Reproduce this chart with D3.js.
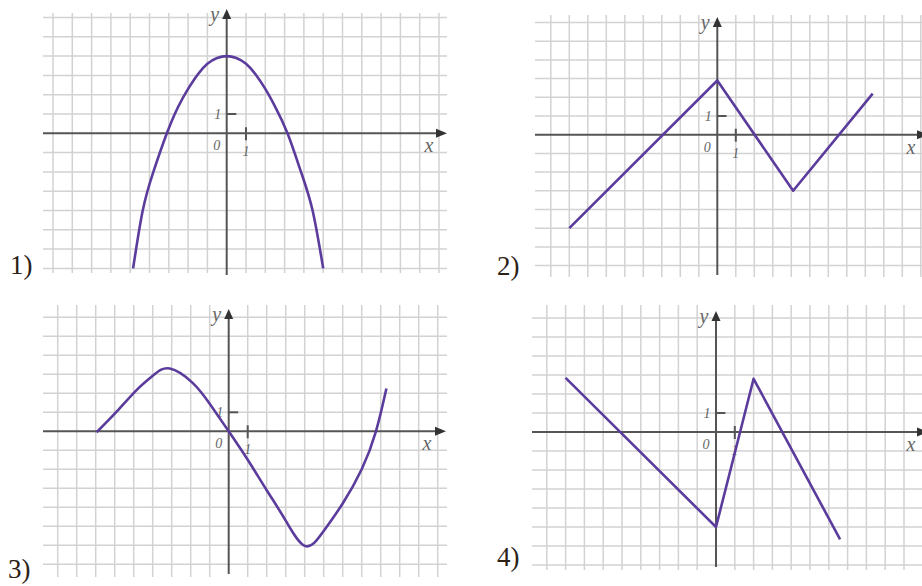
<!DOCTYPE html>
<html>
<head>
<meta charset="utf-8">
<script src="https://cdn.jsdelivr.net/npm/d3@7"></script>
<style>
  body { margin: 0; background: #fff; }
  svg { display: block; }
</style>
</head>
<body>
<div id="container"></div>
<script>
/* DATA (grid units) */
const panelNames = ["1)", "2)", "3)", "4)"];
const gridX = d3.range(-9, 12);   // vertical grid lines
const gridY = d3.range(-7, 7);    // horizontal grid lines

const graph1 = [[-4.85,-7],[-4.35,-4],[-3.8,-2],[-3.1,0],[-2.5,1.4],[-2,2.3],[-1.5,3.05],
  [-1,3.6],[-0.5,3.9],[0,4],[0.5,3.9],[1,3.6],[1.5,3.05],[2,2.3],[2.5,1.4],[3.15,0],[3.85,-2],
  [4.45,-4],[5.0,-7]];
const graph2 = [[-8,-5],[0,2.9],[4.1,-3],[8.4,2.2]];
const graph3 = [[-6.95,-0.05],[-5.9,1.03],[-4.85,2.17],[-3.95,2.96],[-3.1,3.3],[-1.9,2.55],
  [-1,1.45],[0,0],[1,-1.5],[2,-3.1],[3,-4.7],[4.03,-6.04],[5,-5.25],[6,-3.8],
  [7,-2.0],[7.75,0],[8.3,2.25]];
const graph4 = [[-8,2.85],[0,-5],[2,2.8],[6.6,-5.65]];

/* LAYOUT (pixels) */
const width = 922, height = 586;
const panels = [
  {name: panelNames[0], pts: graph1, smooth: true,
   ox: 226.7, oy: 133.3, cx: 19.3, cy: 19.3, hx: [43, 447], vy: [13, 273], yTop: 9, yBot: 275, xEnd: 447, xLab: 429, lx: 10, ly: 274},
  {name: panelNames[1], pts: graph2, smooth: false,
   ox: 717.3, oy: 134.7, cx: 18.5, cy: 18.7, hx: [535, 922], vy: [15, 277], yTop: 17, yBot: 275, xEnd: 928, xLab: 911, lx: 497, ly: 275},
  {name: panelNames[2], pts: graph3, smooth: true,
   ox: 228.7, oy: 431.3, cx: 19, cy: 19, hx: [43, 447], vy: [305, 577], yTop: 309, yBot: 574, xEnd: 446, xLab: 427, lx: 8, ly: 578},
  {name: panelNames[3], pts: graph4, smooth: false,
   ox: 716, oy: 432, cx: 18.8, cy: 19, hx: [532, 922], vy: [305, 570], yTop: 311, yBot: 567, xEnd: 928, xLab: 911, lx: 497, ly: 566}
];

const gridColor = "#d2d2d2", axisColor = "#555", curveColor = "#5b3c9c";

const svg = d3.select("#container")
  .append("svg")
  .attr("width", width)
  .attr("height", height);

panels.forEach(p => {
  const xScale = d3.scaleLinear().domain([0, 1]).range([p.ox, p.ox + p.cx]);
  const yScale = d3.scaleLinear().domain([0, 1]).range([p.oy, p.oy - p.cy]);
  const g = svg.append("g");

  // GRID
  g.selectAll("line.vgrid")
    .data(gridX.filter(d => d !== 0 && xScale(d) <= width + 1))
    .join("line")
    .attr("class", "vgrid")
    .attr("x1", d => xScale(d)).attr("x2", d => xScale(d))
    .attr("y1", p.vy[0]).attr("y2", p.vy[1])
    .attr("stroke", gridColor).attr("stroke-width", 1.5);

  g.selectAll("line.hgrid")
    .data(gridY.filter(d => d !== 0))
    .join("line")
    .attr("class", "hgrid")
    .attr("x1", p.hx[0]).attr("x2", p.hx[1])
    .attr("y1", d => yScale(d)).attr("y2", d => yScale(d))
    .attr("stroke", gridColor).attr("stroke-width", 1.5);

  // AXES
  g.append("line")
    .attr("x1", p.hx[0]).attr("x2", p.xEnd - 8)
    .attr("y1", yScale(0)).attr("y2", yScale(0))
    .attr("stroke", axisColor).attr("stroke-width", 2);
  g.append("path")
    .attr("d", `M${p.xEnd},${yScale(0)} L${p.xEnd - 11},${yScale(0) - 4.5} L${p.xEnd - 11},${yScale(0) + 4.5}Z`)
    .attr("fill", "#333");

  g.append("line")
    .attr("x1", xScale(0)).attr("x2", xScale(0))
    .attr("y1", p.yBot).attr("y2", p.yTop + 6)
    .attr("stroke", axisColor).attr("stroke-width", 2);
  g.append("path")
    .attr("d", `M${xScale(0)},${p.yTop} L${xScale(0) - 4.5},${p.yTop + 10} L${xScale(0) + 4.5},${p.yTop + 10}Z`)
    .attr("fill", "#333");

  // unit ticks
  g.append("line")
    .attr("x1", xScale(0)).attr("x2", xScale(0.5))
    .attr("y1", yScale(1)).attr("y2", yScale(1))
    .attr("stroke", axisColor).attr("stroke-width", 2);
  g.append("line")
    .attr("x1", xScale(1)).attr("x2", xScale(1))
    .attr("y1", yScale(0) - 6).attr("y2", yScale(0) + 7)
    .attr("stroke", axisColor).attr("stroke-width", 2);

  const lab = (txt, x, y, size) => g.append("text")
    .attr("x", x).attr("y", y)
    .attr("text-anchor", "middle")
    .attr("font-family", "Liberation Serif, serif")
    .attr("font-style", "italic")
    .attr("font-size", size)
    .attr("fill", "#666")
    .text(txt);

  lab("y", xScale(0) - 12, p.yTop + 12, 20);
  lab("x", p.xLab, yScale(0) + 19, 20);
  lab("0", xScale(0) - 10, yScale(0) + 17, 14);
  lab("1", xScale(0) - 9, yScale(1) + 5, 14);
  lab("1", xScale(1), yScale(0) + 23, 14);

  // CURVE
  const lineGen = d3.line()
    .x(d => xScale(d[0]))
    .y(d => yScale(d[1]))
    .curve(p.smooth ? d3.curveNatural : d3.curveLinear);

  g.append("path")
    .datum(p.pts)
    .attr("d", lineGen)
    .attr("fill", "none")
    .attr("stroke", curveColor)
    .attr("stroke-width", 2.6)
    .attr("stroke-linejoin", "round");

  // PANEL NUMBER
  g.append("text")
    .attr("x", p.lx).attr("y", p.ly)
    .attr("font-family", "Liberation Serif, serif")
    .attr("font-size", 27)
    .attr("fill", "#2b2115")
    .text(p.name);
});
</script>
</body>
</html>
